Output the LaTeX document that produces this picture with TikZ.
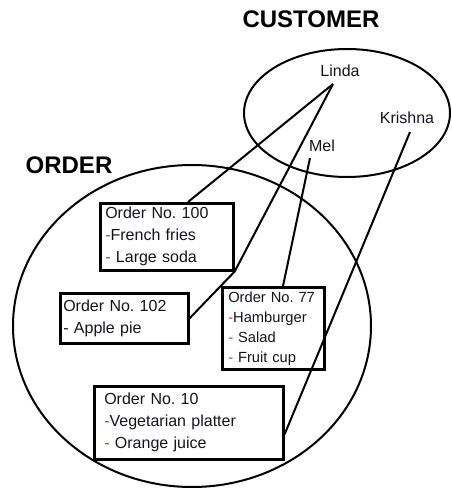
\documentclass[tikz,border=0pt]{standalone}
\usepackage{fontspec}
\setmainfont{Liberation Sans}
\usetikzlibrary{calc}
\definecolor{dashred}{RGB}{230,40,40}
\definecolor{ink}{RGB}{20,20,30}
\newcommand{\rd}{\textcolor{dashred}{-}}
\frenchspacing
\begin{document}
\begin{tikzpicture}[x={(1pt,0)},y={(0,-1pt)},
  set/.style={line width=2pt},
  link/.style={line width=2pt, line join=round},
  title/.style={font=\fontsize{24}{28}\selectfont\bfseries, text=black, inner sep=0pt},
  member/.style={font=\fontsize{16}{20}\selectfont, text=ink, inner sep=0pt},
  orderbox/.style={draw, line width=2.6pt, fill=white, rectangle, anchor=north west,
     align=left, text=ink, inner ysep=0pt,
     font=\fontsize{16}{22}\selectfont\frenchspacing}]
\useasboundingbox (0,0) rectangle (451,488);
% sets
\draw[set] (347,113) ellipse [x radius=103, y radius=64];
\draw[set] (192,326) ellipse [x radius=179, y radius=161];
% titles
\node[title] (cust) at (311,19) {CUSTOMER};
\node[title] (ord) at (69,165) {ORDER};
% customers
\node[member] (linda) at (340,71) {Linda};
\node[member] (mel) at (322,146) {Mel};
\node[member] (krishna) at (407,118) {Krishna};
\coordinate (lp) at (333,84);
\coordinate (mp) at (310,158);
\coordinate (kp) at (410,132);
% orders
\node[orderbox, inner xsep=5pt, text width=123pt, minimum height=67pt] (o100) at (99,202)
  {Order No. 100\\\rd French fries\\\rd{} Large soda};
\node[orderbox, inner xsep=3pt, text width=122pt, minimum height=50pt] (o102) at (59,292)
  {Order No. 102\\- Apple pie\\[-8pt]};
\node[orderbox, inner xsep=6pt, text width=90pt, minimum height=82pt,
  font=\fontsize{14.7}{20}\selectfont\frenchspacing] (o77) at (221,286)
  {Order No. 77\\\rd Hamburger\\\rd{} Salad\\\rd{} Fruit cup};
\node[orderbox, inner xsep=10pt, text width=169pt, minimum height=73pt] (o10) at (93,385)
  {Order No. 10\\\rd Vegetarian platter\\\rd{} Orange juice};
% links
\draw[link] (lp) -- ([xshift=89pt]o100.north west);
\draw[link] (lp) -- (o100.south east) -- (o102.east);
\draw[link] (mp) -- ([xshift=62pt]o77.north west);
\draw[link] (kp) -- ([yshift=-11.5pt]o10.east);
\end{tikzpicture}
\end{document}
